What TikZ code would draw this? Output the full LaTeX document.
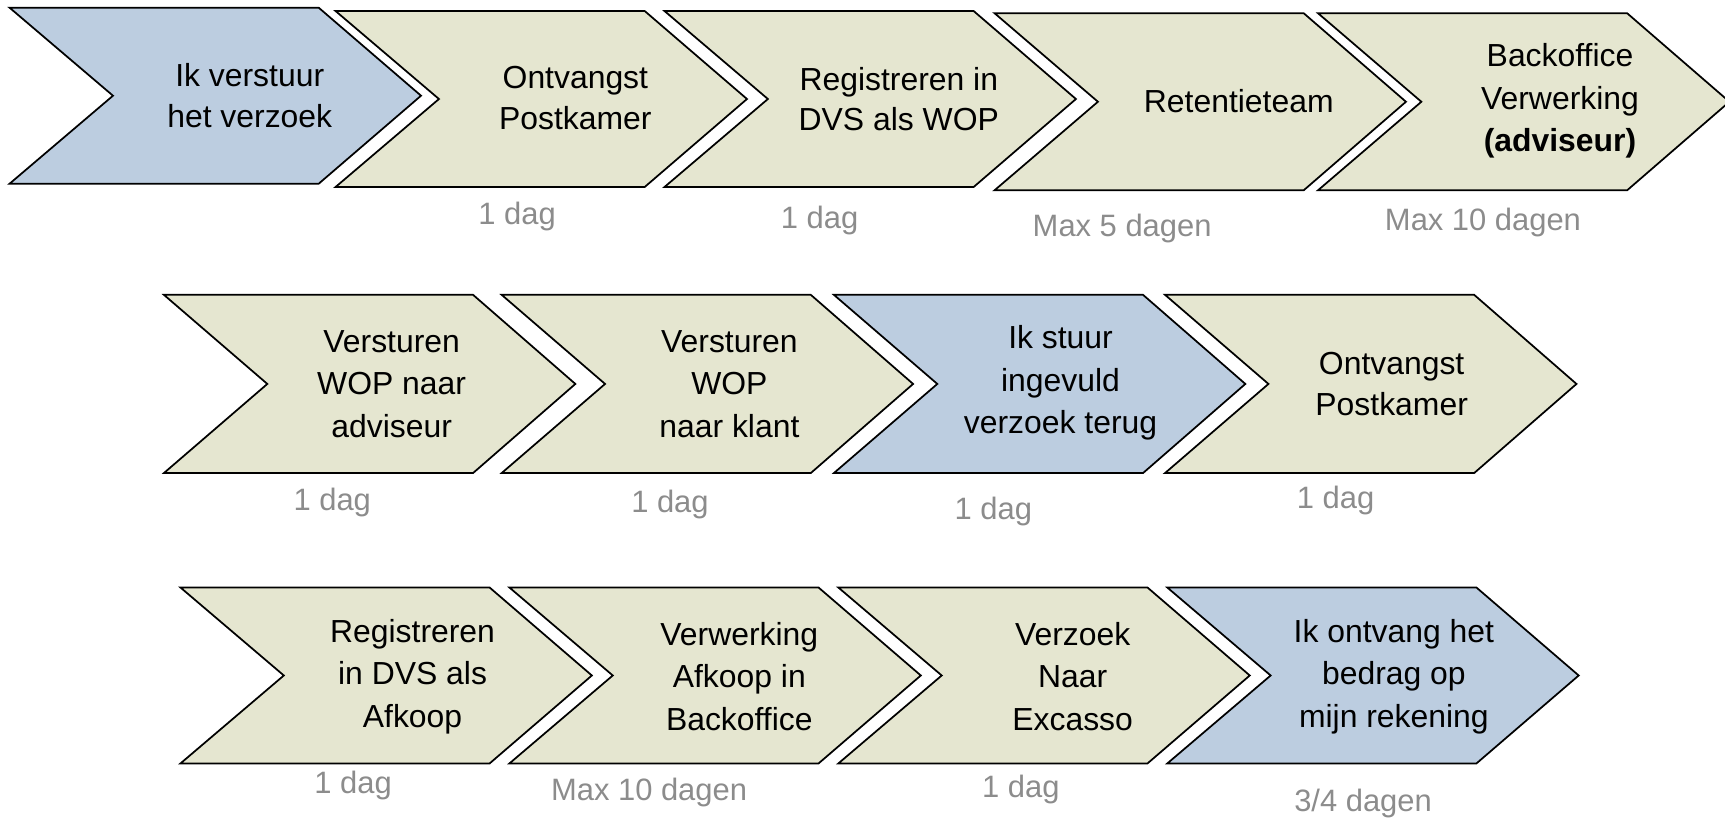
\documentclass[tikz,border=0pt]{standalone}
\usepackage{fontspec}
\setmainfont{Liberation Sans}
\usepackage{xcolor}
\usepackage{tikz}
\usetikzlibrary{calc}

\definecolor{stepblue}{HTML}{BCCDE0}
\definecolor{stepolive}{HTML}{E5E6D0}
\definecolor{daygray}{HTML}{8C8C8C}

\tikzset{
  chev/.style={draw=black,line width=0.9pt,line join=miter},
  steptext/.style={align=center,inner sep=0pt,font=\fontsize{16.5}{21}\selectfont},
  stepthree/.style={steptext,font=\fontsize{16.5}{22}\selectfont},
  daytext/.style={text=daygray,inner sep=0pt,font=\fontsize{16}{19}\selectfont}
}

% chevron: left x, top y, bottom y, fill colour
\newcommand{\chevdraw}[4]{%
  \pgfmathsetmacro{\ymid}{(#2+#3)/2}
  \draw[chev,fill=#4] (#1,#2) -- ({#1+281},#2) -- ({#1+374},\ymid) -- ({#1+281},#3)
    -- (#1,#3) -- ({#1+94},\ymid) -- cycle;}

\begin{document}
\begin{tikzpicture}[x=0.02cm,y=-0.02cm]

\useasboundingbox (0,0) rectangle (1568,743);

% row 1
\chevdraw{8.7}{7}{167}{stepblue}
\chevdraw{305}{10}{170}{stepolive}
\chevdraw{604}{10}{170}{stepolive}
\chevdraw{904}{12}{173}{stepolive}
\chevdraw{1198}{12}{173}{stepolive}

% row 2
\chevdraw{149}{268}{430}{stepolive}
\chevdraw{456}{268}{430}{stepolive}
\chevdraw{758}{268}{430}{stepblue}
\chevdraw{1059}{268}{430}{stepolive}

% row 3
\chevdraw{164}{534}{694}{stepolive}
\chevdraw{463}{534}{694}{stepolive}
\chevdraw{762}{534}{694}{stepolive}
\chevdraw{1061}{534}{694}{stepblue}

% step texts
\node[steptext] (verstuur) at (227,87) {Ik verstuur\\het verzoek};
\node[steptext] (postkamer) at (523,89) {Ontvangst\\Postkamer};
\node[steptext] (dvswop) at (817,90) {Registreren in\\DVS als WOP};
\node[steptext] (retentie) at (1126,92) {Retentieteam};
\node[stepthree] (backoffice) at (1418,92) {Backoffice\\Verwerking\\\textbf{(adviseur)}};

\node[stepthree] (woadviseur) at (356,349) {Versturen\\WOP naar\\adviseur};
\node[stepthree] (wopklant) at (663,349) {Versturen\\WOP\\naar klant};
\node[stepthree] (terug) at (964,348) {Ik stuur\\ingevuld\\verzoek terug};
\node[steptext] (postkamertwo) at (1265,349) {Ontvangst\\Postkamer};

\node[stepthree] (dvsafkoop) at (375,615) {Registreren\\in DVS als\\Afkoop};
\node[stepthree] (verwerking) at (672,615) {Verwerking\\Afkoop in\\Backoffice};
\node[stepthree] (excasso) at (975,615) {Verzoek\\Naar\\Excasso};
\node[stepthree] (ontvang) at (1267,615) {Ik ontvang het\\bedrag op\\mijn rekening};

% durations
\node[daytext] (dagA) at (470,197) {1 dag};
\node[daytext] (dagB) at (745,200) {1 dag};
\node[daytext] (dagC) at (1020,208) {Max 5 dagen};
\node[daytext] (dagD) at (1348,202) {Max 10 dagen};
\node[daytext] (dagE) at (302,457) {1 dag};
\node[daytext] (dagF) at (609,459) {1 dag};
\node[daytext] (dagG) at (903,465) {1 dag};
\node[daytext] (dagH) at (1214,455) {1 dag};
\node[daytext] (dagI) at (321,714) {1 dag};
\node[daytext] (dagJ) at (590,720) {Max 10 dagen};
\node[daytext] (dagK) at (928,718) {1 dag};
\node[daytext] (dagL) at (1239,730) {3/4 dagen};
\end{tikzpicture}
\end{document}
